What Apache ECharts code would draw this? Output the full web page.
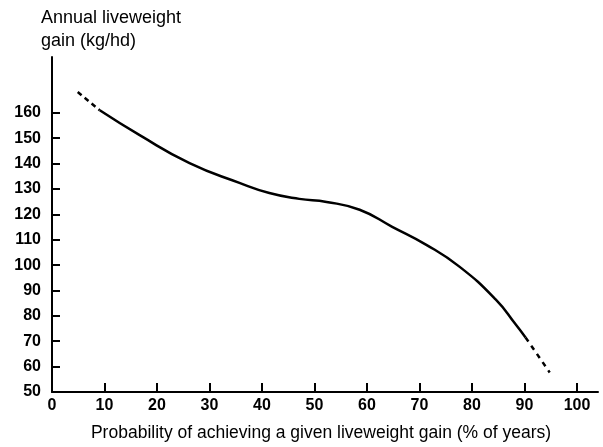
<!DOCTYPE html>
<html><head><meta charset="utf-8">
<script src="https://cdn.jsdelivr.net/npm/echarts@6/dist/echarts.min.js"></script>
<style>html,body{margin:0;padding:0;background:#fff}#c{width:603px;height:447px}</style>
</head><body><div id="c"></div>
<script>
const yTitle = 'Annual liveweight\ngain (kg/hd)';
const xTitle = 'Probability of achieving a given liveweight gain (% of years)';
const xTicks = [0,10,20,30,40,50,60,70,80,90,100];
const yTicks = [50,60,70,80,90,100,110,120,130,140,150,160];
// solid part of curve [probability %, gain kg/hd]
const solidCurve = [[9.1,161],[16.7,151.2],[26.2,140.2],[35.7,132.4],[41.4,128.4],[47.1,126.1],[52.3,124.9],[58.6,121.8],[64.8,115.1],[71.3,108],[77.6,99.4],[84.5,86.5],[88.3,76.7],[90.2,71.5]];
const dashedStart = [[4.9,168.2],[9.1,161]];
const dashedEnd = [[90.2,71.5],[94.8,57.7]];

const chart = echarts.init(document.getElementById('c'));
const font = 'Liberation Sans, Arial, sans-serif';
chart.setOption({
  animation:false,
  backgroundColor:'#fff',
  title:{text:yTitle,left:36,top:2,textStyle:{fontFamily:font,fontSize:18,fontWeight:'normal',color:'#000',lineHeight:23}},
  grid:{left:52,top:57,right:5,bottom:54},
  xAxis:{type:'value',min:0,max:104,interval:10,
    name:xTitle,nameLocation:'middle',nameGap:32,
    nameTextStyle:{fontFamily:font,fontSize:17.5,color:'#000',padding:[0,8,0,0]},
    axisLine:{lineStyle:{color:'#000',width:2}},
    axisTick:{inside:true,length:9,lineStyle:{color:'#000',width:2},customValues:xTicks},
    axisLabel:{customValues:xTicks,fontFamily:font,fontSize:16,fontWeight:'bold',color:'#000',margin:6},
    splitLine:{show:false}},
  yAxis:{type:'value',min:50,max:182,interval:10,
    axisLine:{show:true,lineStyle:{color:'#000',width:2}},
    axisTick:{show:true,inside:true,length:8,lineStyle:{color:'#000',width:2},customValues:yTicks},
    axisLabel:{customValues:yTicks,fontFamily:font,fontSize:16,fontWeight:'bold',color:'#000',margin:11},
    splitLine:{show:false}},
  series:[
    {type:'line',data:solidCurve,smooth:0.5,symbol:'none',lineStyle:{color:'#000',width:2.5}},
    {type:'line',data:dashedStart,symbol:'none',lineStyle:{color:'#000',width:2.5,type:[5,4]}},
    {type:'line',data:dashedEnd,symbol:'none',lineStyle:{color:'#000',width:2.5,type:[5,5]}}
  ]
});
</script></body></html>
